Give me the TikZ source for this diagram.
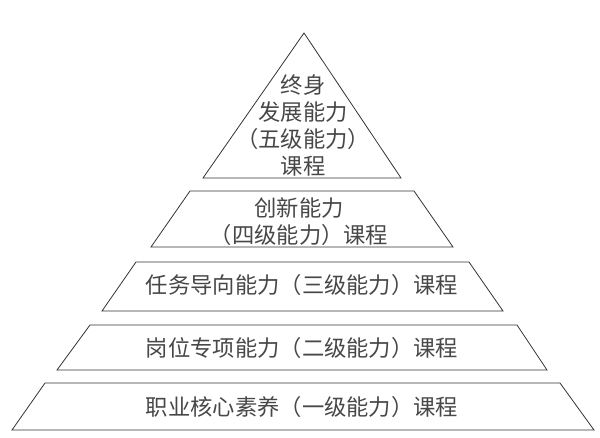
\documentclass[tikz,border=0pt]{standalone}
\usepackage{fontspec}
\usepackage{tikz}
\usepackage{xcolor}
\newfontfamily\cjk{Noto Sans CJK SC}

\tikzset{
  tier/.style={draw=black!80,line width=0.8pt},
  tiertext/.style={align=center,inner sep=0pt,text=black!72,
    font=\cjk\fontsize{22.3}{27}\selectfont}
}

\begin{document}
\begin{tikzpicture}[x=1pt,y=-1pt]
  \useasboundingbox (0,0) rectangle (600,437);
  \coordinate (A) at (304,33);
  \coordinate (BL) at (203,178);
  \coordinate (BR) at (401,178);
  \draw[tier] (A)--(BR)--(BL)--cycle;
  \draw[tier] (190,191)--(414,191)--(453,247)--(151,247)--cycle;
  \draw[tier] (136,262)--(469,262)--(503,311)--(102,311)--cycle;
  \draw[tier] (90,325)--(517,325)--(547,370)--(57,370)--cycle;
  \draw[tier] (45,383)--(560,383)--(594,430)--(12,430)--cycle;
  \node[tiertext] (five) at (303,125) {终身\\发展能力\\（五级能力）\\课程};
  \node[tiertext] (four) at (299,222) {创新能力\\（四级能力）课程};
  \node[tiertext] (three) at (302,285) {任务导向能力（三级能力）课程};
  \node[tiertext] (two) at (302,348) {岗位专项能力（二级能力）课程};
  \node[tiertext] (one) at (302,407) {职业核心素养（一级能力）课程};
\end{tikzpicture}
\end{document}
